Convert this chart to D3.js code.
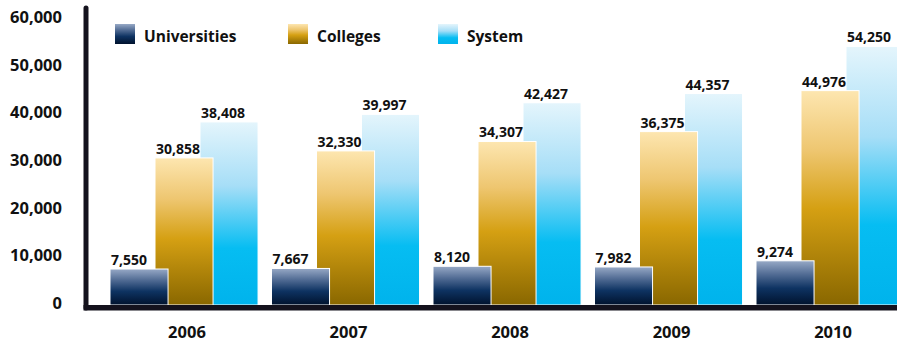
<!DOCTYPE html>
<html>
<head>
<meta charset="utf-8">
<script src="https://cdn.jsdelivr.net/npm/d3@7"></script>
<style>
  html, body { margin: 0; padding: 0; background: #fff; }
  svg { display: block; font-family: "Open Sans", "Noto Sans", sans-serif; font-weight: 700; }
</style>
</head>
<body>
<svg id="chart" width="897" height="343"></svg>
<script>
// Enrolment by year
const years = ["2006", "2007", "2008", "2009", "2010"];
const seriesNames = ["Universities", "Colleges", "System"];
const universities = [7550, 7667, 8120, 7982, 9274];
const colleges = [30858, 32330, 34307, 36375, 44976];
const system = [38408, 39997, 42427, 44357, 54250];
const yTicks = [0, 10000, 20000, 30000, 40000, 50000, 60000];

const seriesValues = { Universities: universities, Colleges: colleges, System: system };

const svg = d3.select("#chart");
const defs = svg.append("defs");

// Vertical gradients for each series
const gradients = {
  Universities: [[0, "#97a9c6"], [0.3, "#536d95"], [0.62, "#0e3362"], [1, "#00122d"]],
  Colleges: [[0, "#fde6b0"], [0.28, "#eec670"], [0.55, "#d5a013"], [1, "#896700"]],
  System: [[0, "#e4f5fc"], [0.35, "#a6def7"], [0.69, "#06bdf2"], [1, "#00b3ec"]]
};
const gradId = name => "grad-" + name;
Object.entries(gradients).forEach(([name, stops]) => {
  const g = defs.append("linearGradient")
    .attr("id", gradId(name))
    .attr("x1", 0).attr("y1", 0).attr("x2", 0).attr("y2", 1);
  stops.forEach(([o, c]) => g.append("stop").attr("offset", o).attr("stop-color", c));
});

// Scales
const y = d3.scaleLinear().domain([0, 60000]).range([305, 19]);
const x = d3.scaleBand().domain(years).range([110, 904]).paddingInner(0.0836).paddingOuter(0);
const xInner = d3.scalePoint().domain(seriesNames).range([0, 90]);
const barWidth = xInner.step() * 1.29;
const fmt = d3.format(",");

// Y tick labels
svg.append("g").selectAll("text")
  .data(yTicks)
  .join("text")
  .attr("x", 62)
  .attr("y", d => y(d) - 2)
  .attr("dy", "0.36em")
  .attr("text-anchor", "end")
  .attr("font-size", 16.5)
  .attr("fill", "#111")
  .text(d => fmt(d));

// Bars: System at the back, Universities in front
const drawOrder = ["System", "Colleges", "Universities"];
const groups = svg.append("g").selectAll("g")
  .data(years)
  .join("g")
  .attr("transform", d => `translate(${x(d)},0)`);

drawOrder.forEach(name => {
  groups.append("rect")
    .attr("x", xInner(name))
    .attr("y", (d, i) => y(seriesValues[name][i]))
    .attr("width", barWidth)
    .attr("height", (d, i) => y(0) - y(seriesValues[name][i]))
    .attr("fill", `url(#${gradId(name)})`)
    .attr("stroke", "#fff")
    .attr("stroke-width", 1);
});

drawOrder.forEach(name => {
  groups.append("text")
    .attr("x", xInner(name) + 1)
    .attr("y", (d, i) => y(seriesValues[name][i]) - 4)
    .attr("font-size", 14)
    .attr("fill", "#111")
    .text((d, i) => fmt(seriesValues[name][i]));
});

// Year labels
svg.append("g").selectAll("text")
  .data(years)
  .join("text")
  .attr("x", d => x(d) + x.bandwidth() / 2 + 3)
  .attr("y", 338)
  .attr("text-anchor", "middle")
  .attr("font-size", 16.5)
  .attr("fill", "#111")
  .text(d => d);

// Axis lines
svg.append("line")
  .attr("x1", 86).attr("x2", 86)
  .attr("y1", 8).attr("y2", 308)
  .attr("stroke", "#14121d").attr("stroke-width", 5)
  .attr("stroke-linecap", "round");
svg.append("line")
  .attr("x1", 83.5).attr("x2", 897)
  .attr("y1", 307.8).attr("y2", 307.8)
  .attr("stroke", "#14121d").attr("stroke-width", 5.5);

// Legend
const legendX = { Universities: 115, Colleges: 288, System: 438 };
const legend = svg.append("g").selectAll("g")
  .data(seriesNames)
  .join("g")
  .attr("transform", d => `translate(${legendX[d]},24)`);
legend.append("rect")
  .attr("width", 20).attr("height", 20)
  .attr("fill", d => `url(#${gradId(d)})`);
legend.append("text")
  .attr("x", 29).attr("y", 18)
  .attr("font-size", 15.5)
  .attr("fill", "#111")
  .text(d => d);
</script>
</body>
</html>
